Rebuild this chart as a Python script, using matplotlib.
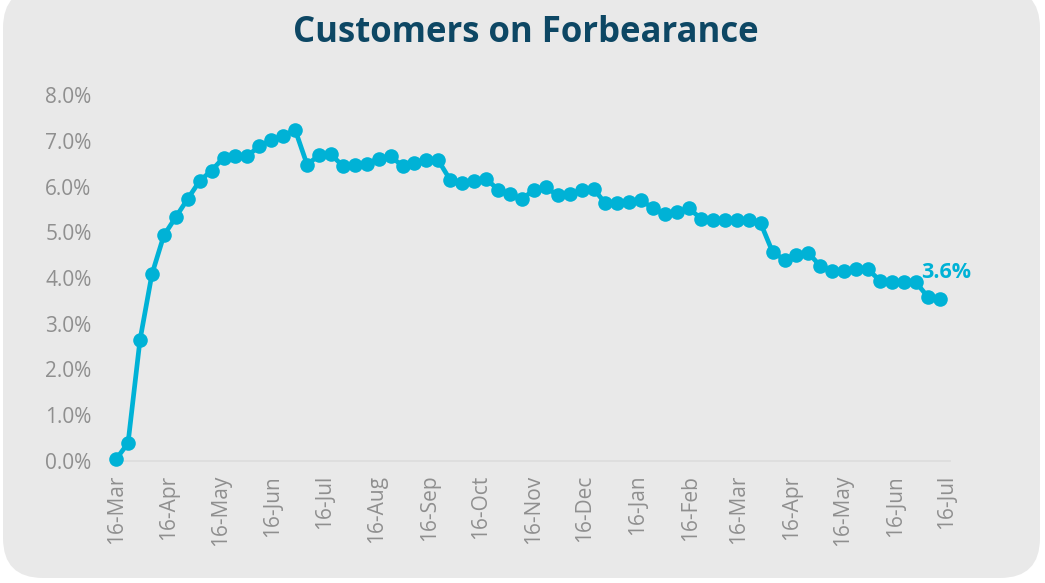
import datetime as dt
import matplotlib
matplotlib.use('Agg')
import matplotlib.pyplot as plt
import matplotlib.dates as mdates
from matplotlib.patches import FancyBboxPatch
from matplotlib.ticker import FuncFormatter

plt.rcParams['font.family'] = ['Open Sans', 'DejaVu Sans']

# weekly share of customers on forbearance (%), starting 16-Mar-2020
start = dt.date(2020, 3, 16)
forbearance_pct = [
    0.04, 0.39, 2.64, 4.08, 4.93, 5.33, 5.73, 6.12, 6.35, 6.63,
    6.66, 6.66, 6.89, 7.01, 7.11, 7.24, 6.48, 6.68, 6.70, 6.45,
    6.46, 6.50, 6.61, 6.66, 6.45, 6.51, 6.57, 6.57, 6.14, 6.08,
    6.11, 6.17, 5.93, 5.83, 5.72, 5.93, 5.98, 5.81, 5.83, 5.92,
    5.95, 5.63, 5.63, 5.66, 5.70, 5.52, 5.39, 5.44, 5.52, 5.30,
    5.26, 5.26, 5.26, 5.26, 5.20, 4.57, 4.40, 4.50, 4.55, 4.26,
    4.16, 4.16, 4.19, 4.19, 3.94, 3.91, 3.91, 3.91, 3.59, 3.55,
]
dates = [start + dt.timedelta(weeks=i) for i in range(len(forbearance_pct))]
last_label = '3.6%'

tick_dates = [dt.date(2020 + (3 + i - 1) // 12, (3 + i - 1) % 12 + 1, 16) for i in range(17)]
y_ticks = [0, 1, 2, 3, 4, 5, 6, 7, 8]

line_color = '#00b2d6'
label_gray = '#8f8f8f'
title_color = '#0d4764'

fig = plt.figure(figsize=(10.45, 5.83), dpi=100)
fig.patch.set_facecolor('white')
bg = FancyBboxPatch((0.03, 0.05), 10.37, 5.9,
                    boxstyle='round,pad=0,rounding_size=0.4',
                    transform=fig.dpi_scale_trans, facecolor='#e9e9e9',
                    edgecolor='none', zorder=-5)
fig.patches.append(bg)

ax = fig.add_axes([0.1062, 0.2093, 0.8028, 0.6277])
ax.set_facecolor('none')
ax.plot(dates, forbearance_pct, color=line_color, lw=3.4, marker='o',
        markersize=10.5, markeredgewidth=0, solid_capstyle='round',
        clip_on=False, zorder=3)

ax.set_xlim(start - dt.timedelta(days=3.7), start + dt.timedelta(days=489))
ax.set_ylim(0, 8)
ax.set_yticks(y_ticks)
ax.yaxis.set_major_formatter(FuncFormatter(lambda v, p: f'{v:.1f}%'))
ax.set_xticks(tick_dates)
ax.xaxis.set_major_formatter(mdates.DateFormatter('%d-%b'))
for lab in ax.get_xticklabels():
    lab.set_rotation(90)

ax.tick_params(axis='both', length=0, labelsize=15, labelcolor=label_gray)
ax.tick_params(axis='y', pad=14)
ax.tick_params(axis='x', pad=10)
for side in ['top', 'right', 'left']:
    ax.spines[side].set_visible(False)
ax.spines['bottom'].set_color('#dcdcdc')
ax.spines['bottom'].set_linewidth(1.2)

ax.annotate(last_label, (dates[-1], forbearance_pct[-1]),
            xytext=(-13, 11), textcoords='offset points',
            ha='left', va='bottom', fontsize=15.5, fontweight='bold',
            color=line_color)

fig.text(0.503, 0.943, 'Customers on Forbearance', ha='center', va='center',
         fontsize=25, fontweight='bold', color=title_color)

fig.savefig('out.png', dpi=100)
